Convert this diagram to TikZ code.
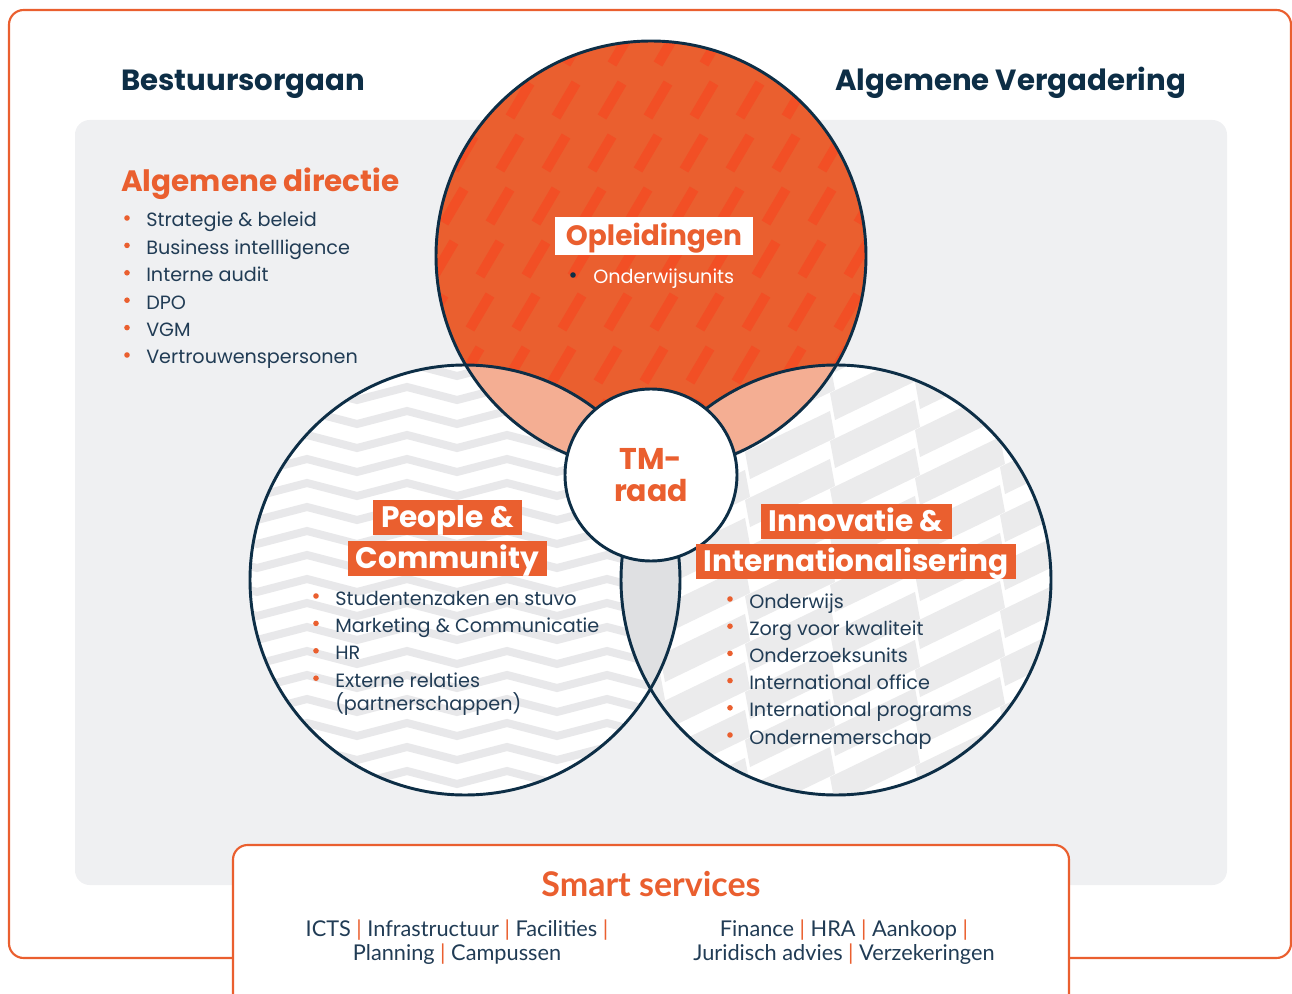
\documentclass[tikz,border=0pt]{standalone}
\usepackage{fontspec}
\setmainfont{Poppins}
\newfontfamily\smartfont{Lato}
\usepackage{xcolor}
\usepackage{tikz}
\definecolor{accent}{HTML}{EA5F2F}
\definecolor{navy}{HTML}{0D2E46}
\definecolor{ink}{HTML}{213C55}
\definecolor{panel}{HTML}{EFF0F2}
\definecolor{stripe}{HTML}{F24F25}
\definecolor{salmon}{HTML}{F4AE93}
\definecolor{lens}{HTML}{DFE0E2}
\definecolor{zig}{HTML}{E8E8EA}
\definecolor{stepgray}{HTML}{EBEBEC}
\tikzset{
  frame/.style={draw=accent, line width=1.6pt, rounded corners=11pt},
  ring/.style={draw=navy, line width=2.2pt},
  dashO/.style={draw=stripe, line width=7.5pt},
  zigG/.style={draw=zig, line width=6pt},
  stepG/.style={fill=stepgray},
  hd/.style={text=navy, font=\fontsize{21.9}{26}\selectfont\bfseries, anchor=base west, inner sep=0pt},
  hdO/.style={hd, text=accent, font=\fontsize{22.1}{26}\selectfont\bfseries},
  itm/.style={text=ink, font=\fontsize{14.4}{18}\selectfont, anchor=base west, inner sep=0pt},
  dot/.style={fill=accent},
  tag/.style={fill=accent, text=white, font=\fontsize{22.2}{26}\selectfont\bfseries,
    inner xsep=6pt, inner ysep=0pt, minimum height=26.25pt, text height=15.5pt, text depth=0pt},
  svc/.style={text=ink, font=\smartfont\fontsize{16.3}{20}\selectfont, anchor=base, inner sep=0pt}
}
\newcommand{\vsep}{\textcolor{accent}{|}}
\def\R{161.25pt}

\begin{document}
\begin{tikzpicture}[x=0.75pt, y=-0.75pt]
  \useasboundingbox (0,0) rectangle (1292,994);

  % frame and grey panel
  \draw[frame] (9,10) rectangle (1291,958);
  \fill[panel, rounded corners=11pt] (75,120) rectangle (1227,885);

  \node[hd] (bo) at (121,91) {Bestuursorgaan};
  \node[hd] (av) at (835,91) {Algemene Vergadering};

  \coordinate (O) at (651,256);
  \coordinate (P) at (465,580);
  \coordinate (I) at (836,580);

  % Opleidingen: orange with slanted dashes
  \begin{scope}
    \clip (O) circle (\R);
    \fill[accent] (O) circle (\R);
    \foreach \k in {-2,...,8}
      \foreach \j in {-2,...,11}
        \draw[dashO] ({510-10*\k+46*\j}, {117+53*\k}) -- ++(20,-34);
  \end{scope}

  % People & Community: zigzag lines
  \begin{scope}
    \clip (P) circle (\R);
    \fill[white] (P) circle (\R);
    \foreach \k in {0,...,19}
      \draw[zigG] (157,{352+24*\k}) \foreach \i in {1,...,6} { -- ++(50,-13) -- ++(50,13) };
  \end{scope}

  % Innovatie: stepped bands
  \begin{scope}
    \clip (I) circle (\R);
    \fill[white] (I) circle (\R);
    \foreach \j in {0,...,6}
      \foreach \k in {-2,...,13}
        \fill[stepG] ({575+85*\j}, {330+48*\k-11*\j}) -- ++(85,-41) -- ++(5,27) -- ++(-85,41) -- cycle;
  \end{scope}

  % overlaps
  \begin{scope}
    \clip (P) circle (\R);
    \fill[lens] (I) circle (\R);
  \end{scope}
  \begin{scope}
    \clip (O) circle (\R);
    \fill[salmon] (P) circle (\R);
    \fill[salmon] (I) circle (\R);
  \end{scope}

  \draw[ring] (O) circle (\R);
  \draw[ring] (P) circle (\R);
  \draw[ring] (I) circle (\R);

  \node[circle, ring, fill=white, minimum size=129pt, inner sep=0pt, align=center,
        text=accent, font=\fontsize{22.5}{24}\selectfont\bfseries] (tm) at (651,475) {TM-\\raad};

  % Algemene directie
  \node[hdO] (ad) at (121,192) {Algemene directie};
  \foreach \t [count=\i] in {Strategie \& beleid, Business intellligence, Interne audit, DPO, VGM, Vertrouwenspersonen}{
    \fill[dot] (127,{218+27.4*(\i-1)}) circle (2.1pt);
    \node[itm] (ad\i) at (146,{227+27.4*(\i-1)}) {\t};
  }

  % Opleidingen
  \node[fill=white, text=accent, font=\fontsize{21}{26}\selectfont\bfseries, minimum width=148.5pt,
        minimum height=28.5pt, inner sep=0pt, text height=15pt, text depth=0pt] (opl) at (654,236) {Opleidingen};
  \fill[navy] (573,275) circle (2.1pt);
  \node[itm, text=white] (ow) at (593,284) {Onderwijsunits};

  % People & Community
  \node[tag] (pc1) at (447.5,517.5) {People \&};
  \node[tag] (pc2) at (447.5,558.5) {Community};
  \foreach \t [count=\i] in {Studentenzaken en stuvo, Marketing \& Communicatie, HR, Externe relaties}{
    \fill[dot] (316,{596+27.4*(\i-1)}) circle (2.1pt);
    \node[itm] (pc\i) at (335,{605+27.4*(\i-1)}) {\t};
  }
  \node[itm] (pc5) at (335,710) {(partnerschappen)};

  % Innovatie & Internationalisering
  \node[tag] (ii1) at (856,521.5) {Innovatie \&};
  \node[tag] (ii2) at (856,561.5) {Internationalisering};
  \foreach \t [count=\i] in {Onderwijs, Zorg voor kwaliteit, Onderzoeksunits, International office, International programs, Ondernemerschap}{
    \fill[dot] (730,{599+27.2*(\i-1)}) circle (2.1pt);
    \node[itm] (ii\i) at (749,{608+27.2*(\i-1)}) {\t};
  }

  % Smart services
  \filldraw[frame, fill=white] (233,1010) -- (233,845) -- (1069,845) -- (1069,1010);
  \node[anchor=base, inner sep=0pt, text=accent, font=\smartfont\fontsize{25.5}{28}\selectfont\bfseries] (ss) at (651,896) {Smart services};
  \node[svc] (ssl1) at (457,936) {ICTS \vsep{} Infrastructuur \vsep{} Facilities \vsep};
  \node[svc] (ssl2) at (457,960) {Planning \vsep{} Campussen};
  \node[svc] (ssr1) at (844,936) {Finance \vsep{} HRA \vsep{} Aankoop \vsep};
  \node[svc] (ssr2) at (844,960) {Juridisch advies \vsep{} Verzekeringen};
\end{tikzpicture}
\end{document}
